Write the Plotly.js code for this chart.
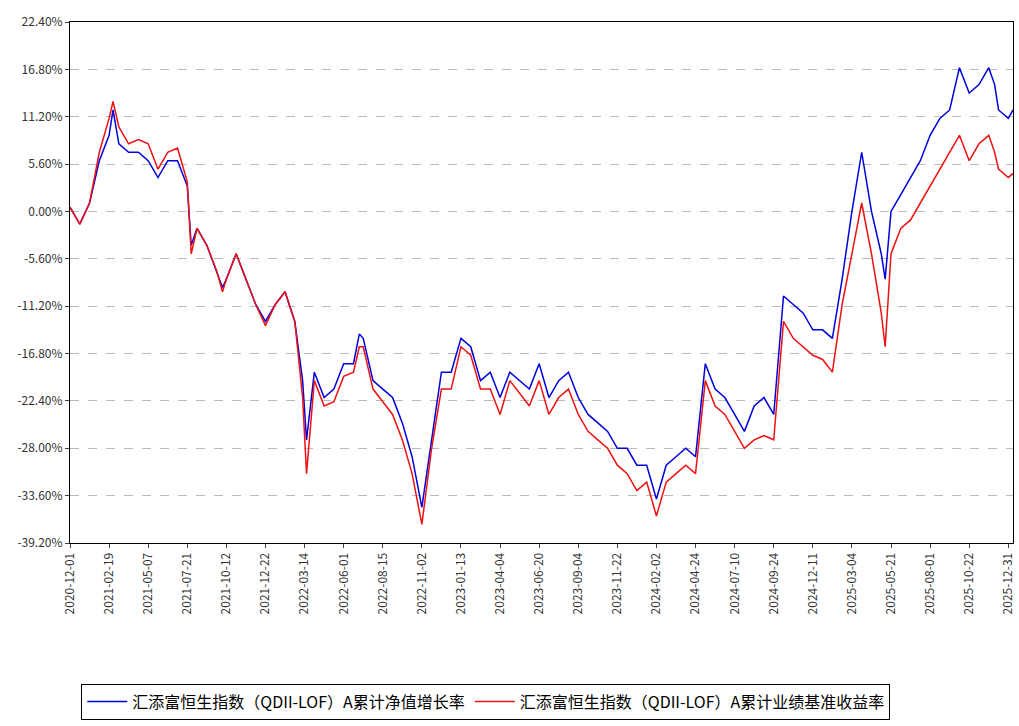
<!DOCTYPE html>
<html><head><meta charset="utf-8">
<script src="https://cdn.plot.ly/plotly-3.0.1.min.js"></script>
<style>body{margin:0;background:#fff}#c{width:1019px;height:726px}</style>
</head><body><div id="c"></div>
<script>
const tickLabels=["2020-12-01","2021-02-19","2021-05-07","2021-07-21","2021-10-12","2021-12-22","2022-03-14","2022-06-01","2022-08-15","2022-11-02","2023-01-13","2023-04-04","2023-06-20","2023-09-04","2023-11-22","2024-02-02","2024-04-24","2024-07-10","2024-09-24","2024-12-11","2025-03-04","2025-05-21","2025-08-01","2025-10-22","2025-12-31"];
const pos=[0,0.25,0.5,0.75,1,1.1,1.25,1.5,1.75,2,2.25,2.5,2.75,3,3.1,3.25,3.5,3.75,3.9,4,4.25,4.5,4.75,5,5.25,5.5,5.75,5.95,6.05,6.25,6.5,6.75,7,7.25,7.4,7.5,7.75,8,8.25,8.5,8.75,9,9.25,9.5,9.75,10,10.25,10.5,10.75,11,11.25,11.5,11.75,12,12.25,12.5,12.75,13,13.25,13.5,13.75,14,14.25,14.5,14.75,15,15.25,15.5,15.75,16,16.25,16.5,16.75,17,17.25,17.5,17.75,18,18.25,18.5,18.75,19,19.25,19.5,19.75,20,20.25,20.5,20.75,20.85,21,21.25,21.5,21.75,22,22.25,22.5,22.75,23,23.25,23.5,23.65,23.75,24,24.12];
const fund=[0.5,-1.5,1,6,9,12,8,7,7,6,4,6,6,3,-4,-2,-4,-7,-9,-8,-5,-8,-11,-13,-11,-9.5,-13,-20,-27,-19,-22,-21,-18,-18,-14.5,-15,-20,-21,-22,-25,-29,-35,-27,-19,-19,-15,-16,-20,-19,-22,-19,-20,-21,-18,-22,-20,-19,-22,-24,-25,-26,-28,-28,-30,-30,-34,-30,-29,-28,-29,-18,-21,-22,-24,-26,-23,-22,-24,-10,-11,-12,-14,-14,-15,-8,0,7,0,-5,-8,0,2,4,6,9,11,12,17,14,15,17,15,12,11,12];
const bench=[0.5,-1.5,1,7,11,13,10,8,8.5,8,5,7,7.5,3.5,-5,-2,-4,-7,-9.5,-8,-5,-8,-11,-13.5,-11,-9.5,-13,-22,-31,-20,-23,-22.5,-19.5,-19,-16,-16,-21,-22.5,-24,-27,-31,-37,-28,-21,-21,-16,-17,-21,-21,-24,-20,-21.5,-23,-20,-24,-22,-21,-24,-26,-27,-28,-30,-31,-33,-32,-36,-32,-31,-30,-31,-20,-23,-24,-26,-28,-27,-26.5,-27,-13,-15,-16,-17,-17.5,-19,-11,-5,1,-5,-12,-16,-5,-2,-1,1,3,5,7,9,6,8,9,7,5,4,4.5];
const yTicks=[-39.2,-33.6,-28,-22.4,-16.8,-11.2,-5.6,0,5.6,11.2,16.8,22.4];
const f="'Noto Sans CJK SC', sans-serif";
Plotly.newPlot('c',[
 {x:pos,y:fund,type:'scatter',mode:'lines',name:'汇添富恒生指数（QDII-LOF）A累计净值增长率',line:{color:'#0000dd',width:1.5}},
 {x:pos,y:bench,type:'scatter',mode:'lines',name:'汇添富恒生指数（QDII-LOF）A累计业绩基准收益率',line:{color:'#ee1111',width:1.5}}
],{
 width:1019,height:726,margin:{l:70,r:6,t:22,b:161},
 paper_bgcolor:'#fff',plot_bgcolor:'#fff',
 xaxis:{range:[0,24.12],tickvals:tickLabels.map((_,i)=>i),ticktext:tickLabels,tickangle:-90,ticks:'outside',ticklen:4,showgrid:false,zeroline:false,showline:true,mirror:true,linecolor:'#000',linewidth:1,tickfont:{family:f,size:12,color:'#333'}},
 yaxis:{range:[-39.2,22.4],tickvals:yTicks,ticktext:yTicks.map(v=>v.toFixed(2)+'%'),ticks:'outside',ticklen:4,showgrid:true,gridcolor:'#bbb',griddash:'dash',zeroline:false,showline:true,mirror:true,linecolor:'#000',linewidth:1,tickfont:{family:f,size:12,color:'#333'}},
 showlegend:true,
 legend:{orientation:'h',x:0.012,y:-0.27,xanchor:'left',yanchor:'top',bordercolor:'#000',borderwidth:1,itemwidth:40,font:{family:f,size:16,color:'#000'}}
},{displayModeBar:false});
</script></body></html>
